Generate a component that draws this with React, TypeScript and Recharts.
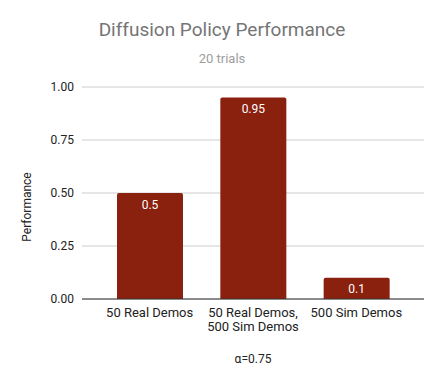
import { Bar, BarChart, CartesianGrid, LabelList, XAxis, YAxis } from "recharts";

// --- Data ---

const categories = ["50 Real Demos", "50 Real Demos,\n500 Sim Demos", "500 Sim Demos"];
const performance = [0.5, 0.95, 0.1];
const yTicks = [0, 0.25, 0.5, 0.75, 1];

const data = categories.map((name, i) => ({ name, value: performance[i] }));

const FONT = "Roboto, Arial, sans-serif";
const BAR_COLOR = "#8a200e";

const CategoryTick = ({ x, y, payload }: any) => {
  const lines = String(payload.value).split("\n");
  return (
    <text
      x={x}
      y={y}
      textAnchor="middle"
      fill="#222"
      fontSize={13}
      fontFamily={FONT}
    >
      {lines.map((line, i) => (
        <tspan key={i} x={x} dy={i === 0 ? 9.5 : 14}>
          {line}
        </tspan>
      ))}
    </text>
  );
};

export default function App() {
  return (
    <div
      style={{
        position: "absolute",
        left: 0,
        top: 0,
        width: 444,
        height: 385,
        background: "#fff",
        fontFamily: FONT,
      }}
    >
      <div
        style={{
          position: "absolute",
          top: 18,
          left: 0,
          width: 444,
          textAlign: "center",
          fontSize: 19,
          color: "#757575",
        }}
      >
        Diffusion Policy Performance
      </div>
      <div
        style={{
          position: "absolute",
          top: 51,
          left: 0,
          width: 444,
          textAlign: "center",
          fontSize: 13,
          color: "#9e9e9e",
        }}
      >
        20 trials
      </div>
      <div
        style={{
          position: "absolute",
          left: 27,
          top: 207,
          transform: "translate(-50%, -50%) rotate(-90deg)",
          fontSize: 12,
          color: "#222",
          whiteSpace: "nowrap",
        }}
      >
        Performance
      </div>
      <div
        style={{
          position: "absolute",
          top: 352,
          left: 82,
          width: 342,
          textAlign: "center",
          fontSize: 12,
          color: "#222",
        }}
      >
        α=0.75
      </div>

      <BarChart
        width={444}
        height={385}
        data={data}
        margin={{ top: 87, right: 20, bottom: 0, left: 0 }}
        barSize={66}
      >
        <CartesianGrid vertical={false} stroke="#cccccc" />
        <XAxis
          dataKey="name"
          height={86}
          axisLine={{ stroke: "#333" }}
          tickLine={false}
          interval={0}
          padding={{ left: 16, right: 16 }}
          tick={<CategoryTick />}
        />
        <YAxis
          width={82}
          domain={[0, 1]}
          ticks={yTicks}
          tickFormatter={(v) => Number(v).toFixed(2)}
          axisLine={false}
          tickLine={false}
          tick={{ fill: "#222", fontSize: 12, fontFamily: FONT }}
        />
        <Bar
          dataKey="value"
          fill={BAR_COLOR}
          radius={[2, 2, 0, 0]}
          isAnimationActive={false}
        >
          <LabelList
            dataKey="value"
            position="insideTop"
            offset={7}
            fill="#fff"
            fontSize={12}
            fontFamily={FONT}
          />
        </Bar>
      </BarChart>
    </div>
  );
}
